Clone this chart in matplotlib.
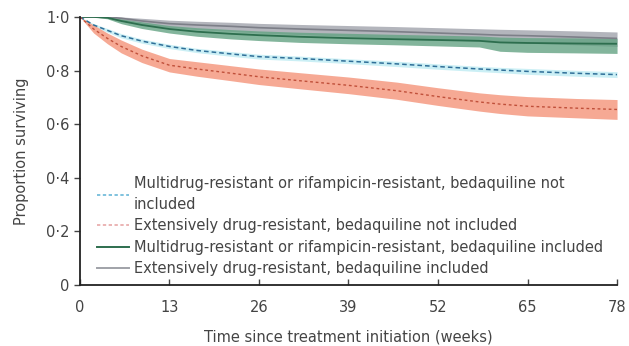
import numpy as np
import matplotlib.pyplot as plt
from matplotlib.lines import Line2D

plt.rcParams['font.family'] = ['DejaVu Sans']

# Kaplan-Meier estimates (weeks since treatment initiation)
weeks = [0, 2, 4, 6, 9, 13, 17, 22, 26, 32, 39, 46, 52, 58, 61, 65, 72, 78]

mdr_no_bdq = [1.0, 0.97, 0.95, 0.93, 0.91, 0.89, 0.875, 0.862, 0.852, 0.845, 0.835, 0.825,
              0.815, 0.806, 0.802, 0.797, 0.79, 0.785]
mdr_no_bdq_lo = [1.0, 0.965, 0.943, 0.922, 0.902, 0.882, 0.867, 0.853, 0.843, 0.836, 0.826, 0.815,
                 0.805, 0.796, 0.792, 0.786, 0.779, 0.774]
mdr_no_bdq_hi = [1.0, 0.975, 0.957, 0.938, 0.918, 0.898, 0.883, 0.871, 0.861, 0.854, 0.844, 0.835,
                 0.825, 0.816, 0.812, 0.808, 0.801, 0.796]

xdr_no_bdq = [1.0, 0.955, 0.92, 0.89, 0.855, 0.82, 0.806, 0.79, 0.777, 0.762, 0.745, 0.725,
              0.703, 0.683, 0.675, 0.667, 0.66, 0.655]
xdr_no_bdq_lo = [1.0, 0.94, 0.9, 0.866, 0.83, 0.795, 0.779, 0.762, 0.748, 0.732, 0.714, 0.693,
                 0.67, 0.649, 0.64, 0.631, 0.624, 0.618]
xdr_no_bdq_hi = [1.0, 0.97, 0.94, 0.914, 0.88, 0.845, 0.833, 0.818, 0.806, 0.792, 0.776, 0.757,
                 0.736, 0.717, 0.71, 0.703, 0.696, 0.692]

mdr_bdq = [1.0, 1.0, 0.997, 0.985, 0.97, 0.955, 0.945, 0.937, 0.932, 0.926, 0.921, 0.917,
           0.914, 0.911, 0.905, 0.903, 0.901, 0.90]
mdr_bdq_lo = [1.0, 1.0, 0.993, 0.975, 0.957, 0.94, 0.928, 0.918, 0.912, 0.905, 0.9, 0.896,
              0.892, 0.888, 0.872, 0.868, 0.866, 0.864]
mdr_bdq_hi = [1.0, 1.0, 1.0, 0.993, 0.982, 0.968, 0.96, 0.953, 0.948, 0.943, 0.939, 0.935,
              0.932, 0.929, 0.925, 0.923, 0.922, 0.921]

xdr_bdq = [1.0, 1.0, 1.0, 0.995, 0.985, 0.975, 0.97, 0.965, 0.96, 0.955, 0.95, 0.945,
           0.94, 0.935, 0.932, 0.93, 0.925, 0.92]
xdr_bdq_lo = [1.0, 1.0, 1.0, 0.985, 0.972, 0.96, 0.953, 0.946, 0.94, 0.934, 0.928, 0.922,
              0.916, 0.909, 0.905, 0.902, 0.896, 0.89]
xdr_bdq_hi = [1.0, 1.0, 1.0, 1.0, 0.995, 0.988, 0.984, 0.98, 0.976, 0.972, 0.968, 0.964,
              0.96, 0.956, 0.954, 0.952, 0.948, 0.944]

x_ticks = [0, 13, 26, 39, 52, 65, 78]
y_ticks = [0, 0.2, 0.4, 0.6, 0.8, 1.0]
y_labels = ['0', '0·2', '0·4', '0·6', '0·8', '1·0']

labels = [
    'Multidrug-resistant or rifampicin-resistant, bedaquiline not\nincluded',
    'Extensively drug-resistant, bedaquiline not included',
    'Multidrug-resistant or rifampicin-resistant, bedaquiline included',
    'Extensively drug-resistant, bedaquiline included',
]

fig = plt.figure(figsize=(6.29, 3.46), dpi=100)
ax = fig.add_axes([0.127, 0.176, 0.854, 0.775])

# confidence bands
ax.fill_between(weeks, xdr_bdq_lo, xdr_bdq_hi, color='#9a9ca6', alpha=0.75, lw=0)
ax.fill_between(weeks, mdr_bdq_lo, mdr_bdq_hi, color='#64a383', alpha=0.8, lw=0)
ax.fill_between(weeks, mdr_no_bdq_lo, mdr_no_bdq_hi, color='#c6eef4', alpha=0.9, lw=0)
ax.fill_between(weeks, xdr_no_bdq_lo, xdr_no_bdq_hi, color='#f59a82', alpha=0.85, lw=0)

# survival curves
ax.plot(weeks, xdr_bdq, color='#7d7f88', lw=1.2)
ax.plot(weeks, mdr_bdq, color='#2d6e4e', lw=1.3)
ax.plot(weeks, mdr_no_bdq, color='#2f6f98', lw=1.1, ls=(0, (3, 2)))
ax.plot(weeks, xdr_no_bdq, color='#c0503a', lw=1.0, ls=(0, (2, 2)))

ax.set_xlim(0, 78)
ax.set_ylim(0, 1.0)
ax.set_xticks(x_ticks)
ax.set_yticks(y_ticks)
ax.set_yticklabels(y_labels)
ax.tick_params(axis='x', direction='in', length=4, width=1, labelsize=10.5, colors='#444444', pad=11)
ax.tick_params(axis='y', direction='out', length=4, width=1, labelsize=10.5, colors='#444444')
for side in ['top', 'right']:
    ax.spines[side].set_visible(False)
for side in ['left', 'bottom']:
    ax.spines[side].set_linewidth(1.3)
    ax.spines[side].set_color('#222222')

ax.set_xlabel('Time since treatment initiation (weeks)', fontsize=10.5, color='#444444', labelpad=10)
ax.set_ylabel('Proportion surviving', fontsize=10.5, color='#444444', labelpad=12)

handles = [
    Line2D([], [], color='#6ab8d8', lw=1.2, ls=(0, (2, 1.5))),
    Line2D([], [], color='#e8a8a8', lw=1.2, ls=(0, (2, 1.5))),
    Line2D([], [], color='#2d6e4e', lw=1.4),
    Line2D([], [], color='#a0a2a8', lw=1.4),
]
leg = ax.legend(handles, labels, loc='lower left', bbox_to_anchor=(0.015, 0.0), frameon=False,
                fontsize=10.5, handlelength=2.2, handletextpad=0.35, labelspacing=0.45,
                borderaxespad=0.2)
for t in leg.get_texts():
    t.set_color('#444444')
    t.set_linespacing(1.45)

fig.savefig('out.png', dpi=100)
